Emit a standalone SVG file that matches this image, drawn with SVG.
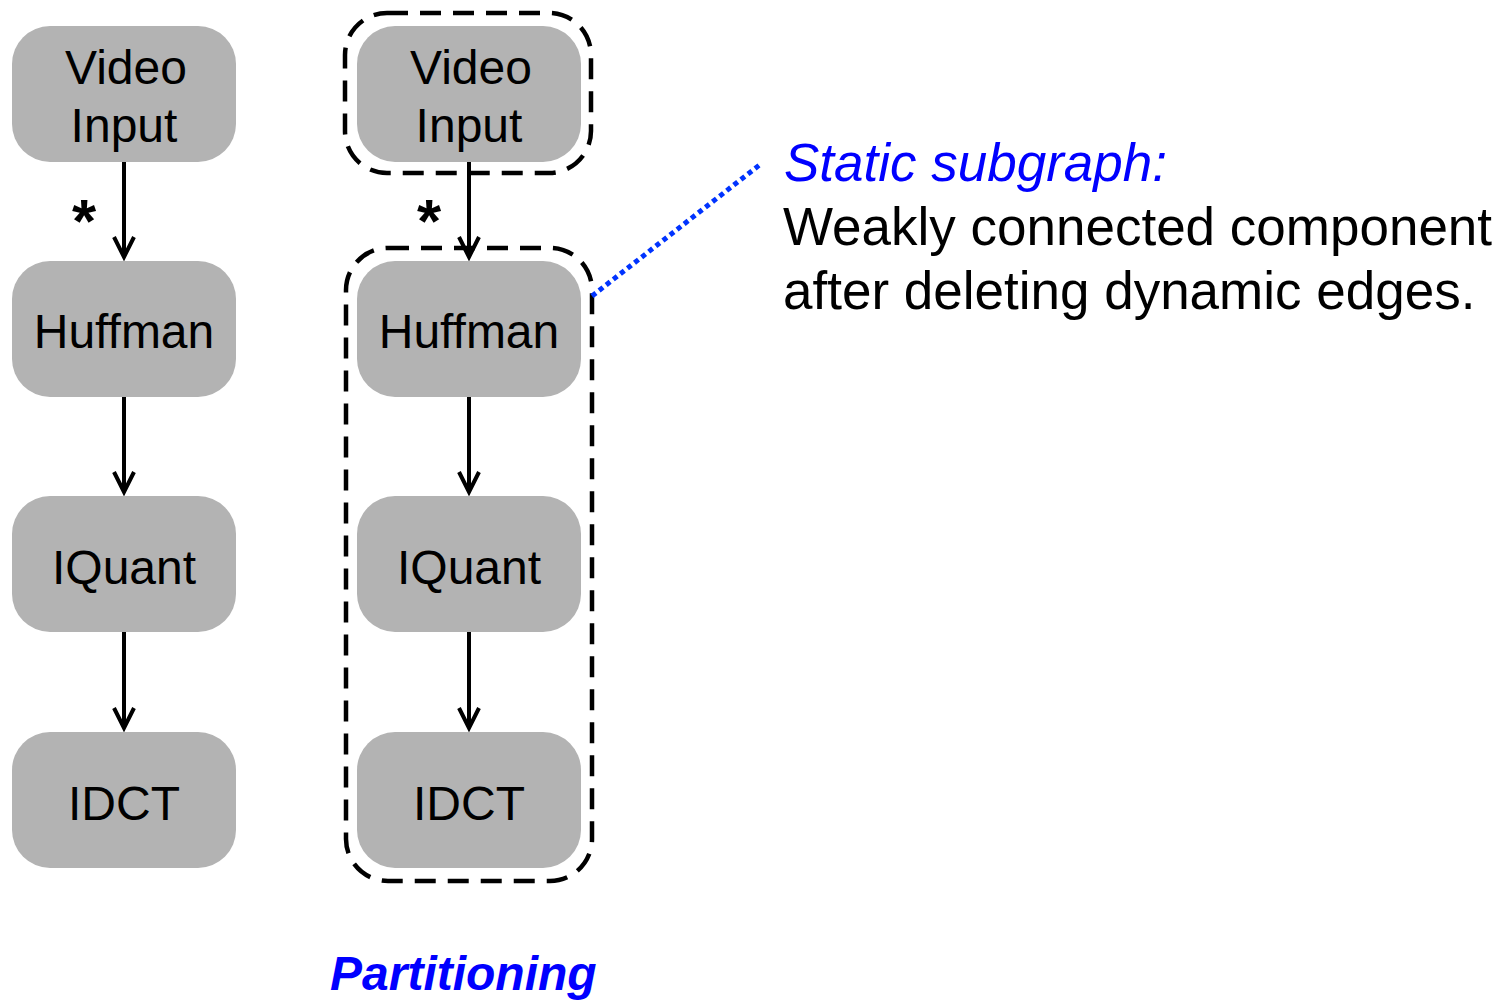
<svg xmlns="http://www.w3.org/2000/svg" width="1504" height="1000" viewBox="0 0 1504 1000">
<defs>
<style>
.node rect{fill:#b3b3b3;}
.node text{font-family:"Liberation Sans",Arial,sans-serif;font-size:48px;fill:#000;text-anchor:middle;}
.edge{stroke:#000;stroke-width:4;fill:none;}
.group{stroke:#000;stroke-width:4.5;fill:none;stroke-dasharray:21 12;}
.star{font-family:"Liberation Sans",Arial,sans-serif;font-size:62px;font-weight:bold;fill:#000;text-anchor:middle;}
</style>
<marker id="arr" markerWidth="26" markerHeight="26" refX="22" refY="12" orient="auto" markerUnits="userSpaceOnUse" viewBox="0 0 26 24">
<path d="M2,2 L22,12 L2,22" fill="none" stroke="#000" stroke-width="4"/>
</marker>
</defs>
<rect width="1504" height="1000" fill="#fff"/>
<g id="nodes-left">
<g id="vi1" class="node"><rect x="12" y="26" width="224" height="136" rx="38"/><text x="126" y="84">Video</text><text x="124" y="142">Input</text></g>
<g id="hf1" class="node"><rect x="12" y="261" width="224" height="136" rx="38"/><text x="124" y="348">Huffman</text></g>
<g id="iq1" class="node"><rect x="12" y="496" width="224" height="136" rx="38"/><text x="124" y="584">IQuant</text></g>
<g id="id1" class="node"><rect x="12" y="732" width="224" height="136" rx="38"/><text x="124" y="820">IDCT</text></g>
</g>
<g id="nodes-right">
<g id="vi2" class="node"><rect x="357" y="26" width="224" height="136" rx="38"/><text x="471" y="84">Video</text><text x="469" y="142">Input</text></g>
<g id="hf2" class="node"><rect x="357" y="261" width="224" height="136" rx="38"/><text x="469" y="348">Huffman</text></g>
<g id="iq2" class="node"><rect x="357" y="496" width="224" height="136" rx="38"/><text x="469" y="584">IQuant</text></g>
<g id="id2" class="node"><rect x="357" y="732" width="224" height="136" rx="38"/><text x="469" y="820">IDCT</text></g>
</g>
<g id="groups">
<rect class="group" x="345" y="13" width="246" height="160" rx="42"/>
<rect class="group" x="346" y="248" width="246" height="633" rx="42"/>
</g>
<g id="connectors">
<line class="edge" x1="124" y1="162" x2="124" y2="257" marker-end="url(#arr)"/>
<line class="edge" x1="124" y1="397" x2="124" y2="492" marker-end="url(#arr)"/>
<line class="edge" x1="124" y1="632" x2="124" y2="728" marker-end="url(#arr)"/>
<line class="edge" x1="469" y1="162" x2="469" y2="257" marker-end="url(#arr)"/>
<line class="edge" x1="469" y1="397" x2="469" y2="492" marker-end="url(#arr)"/>
<line class="edge" x1="469" y1="632" x2="469" y2="728" marker-end="url(#arr)"/>
<line x1="592" y1="296" x2="762" y2="163" stroke="#0033ff" stroke-width="5" stroke-dasharray="5 4"/>
</g>
<text class="star" x="84" y="242">*</text>
<text class="star" x="429" y="242">*</text>
<g id="annotation" font-family="'Liberation Sans',Arial,sans-serif" font-size="53">
<text x="784" y="181" fill="#0000ff" font-style="italic">Static subgraph:</text>
<text x="783" y="245" fill="#000">Weakly connected component</text>
<text x="783" y="309" fill="#000">after deleting dynamic edges.</text>
</g>
<text x="330" y="990" font-family="'Liberation Sans',Arial,sans-serif" font-size="48" font-weight="bold" font-style="italic" fill="#0000ff">Partitioning</text>
</svg>
